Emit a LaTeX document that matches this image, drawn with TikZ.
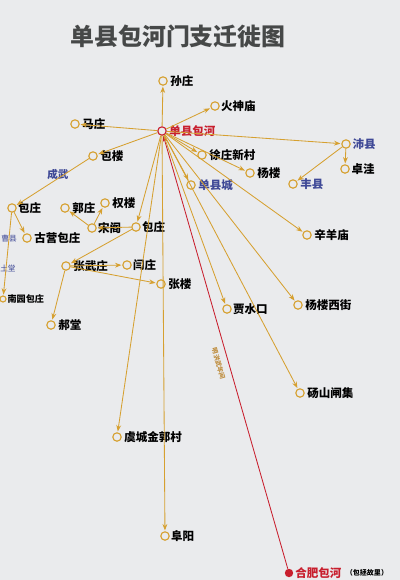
\documentclass[tikz,border=0pt]{standalone}
\usepackage{xcolor}
\usepackage{tikz}
\usepackage{fontspec}
\usetikzlibrary{arrows.meta,positioning}
\newfontfamily\cjk{Noto Sans CJK SC}
\definecolor{mapgold}{RGB}{214, 160, 48}
\definecolor{mapred}{RGB}{200, 30, 45}
\definecolor{mapblue}{RGB}{62, 72, 150}
\definecolor{mapbg}{RGB}{234, 235, 237}
\definecolor{titlegray}{RGB}{70, 72, 72}
\definecolor{notebrown}{RGB}{190, 140, 60}

\begin{document}
\begin{tikzpicture}[x=0.025cm, y=-0.025cm,
    place/.style={circle, draw=mapgold, line width=0.8pt, minimum size=2.1mm, inner sep=0pt},
    town/.style={font=\cjk\bfseries\fontsize{8.2}{9}\selectfont, text=black, inner sep=0.5pt, right=0.3mm},
    county/.style={town, text=mapblue},
    route/.style={draw=mapgold, line width=0.6pt, -{Stealth[length=1.6mm, width=1.2mm]}, shorten >=0.2mm}]
    % Page
    \fill[mapbg] (0,0) rectangle (400,580);
    \useasboundingbox (0,0) rectangle (400,580);

    % Title
    \node[text=titlegray] (title) at (178,36) {\cjk\bfseries\fontsize{17}{20}\selectfont 单县包河门支迁徙图};

    % Origin
    \node[place, draw=mapred] (baohe) at (162,131) {};
    \node[town, text=mapred, right=0.4mm of baohe] (baohe-t) {单县包河};

    % Places round the origin
    \node[place] (sunzhuang) at (163,81) {};
    \node[town, right=0.4mm of sunzhuang] (sunzhuang-t) {孙庄};
    \node[place] (huoshen) at (215,106) {};
    \node[town, right=0.1mm of huoshen] (huoshen-t) {火神庙};
    \node[place] (mazhuang) at (75,124) {};
    \node[town, right=0.4mm of mazhuang] (mazhuang-t) {马庄};
    \node[place] (baolou) at (93,156) {};
    \node[town, right=0.4mm of baolou] (baolou-t) {包楼};
    \node[place] (xuzhuang) at (202,155) {};
    \node[town, right=0.4mm of xuzhuang] (xuzhuang-t) {徐庄新村};
    \node[place] (yanglou) at (250,173) {};
    \node[town, right=0.4mm of yanglou] (yanglou-t) {杨楼};
    \node[place] (danxian) at (191,185) {};
    \node[county, right=0.4mm of danxian] (danxian-t) {单县城};

    % Pei county and Feng county
    \node[place] (peixian) at (346,144) {};
    \node[county, right=0.2mm of peixian] (peixian-t) {沛县};
    \node[place] (zhuowa) at (345,169) {};
    \node[town, right=0.2mm of zhuowa] (zhuowa-t) {卓洼};
    \node[place] (fengxian) at (293,184) {};
    \node[county, right=0.4mm of fengxian] (fengxian-t) {丰县};

    % Chengwu and Cao county, left edge
    \node[place] (baozhuangw) at (12,208) {};
    \node[town, right=0.1mm of baozhuangw] (baozhuangw-t) {包庄};
    \node[place] (guying) at (27,238) {};
    \node[town, right=0.4mm of guying] (guying-t) {古营包庄};
    \node[place, minimum size=1.5mm] (nanyuan) at (3,299) {};
    \node[town, font=\cjk\bfseries\fontsize{6.5}{7}\selectfont, right=0mm of nanyuan] (nanyuan-t) {南园包庄};
    \node[text=mapblue, font=\cjk\fontsize{5.5}{6}\selectfont, inner sep=0pt] (caoxian) at (9,239) {曹县};
    \node[text=mapblue, font=\cjk\fontsize{5.5}{6}\selectfont, inner sep=0pt] (tutang) at (8,268) {土堂};
    \node[text=mapblue, font=\cjk\bfseries\fontsize{7.5}{8}\selectfont] (chengwu) at (58,174) {成武};

    % Middle villages
    \node[place] (guozhuang) at (65,208) {};
    \node[town, right=0.4mm of guozhuang] (guozhuang-t) {郭庄};
    \node[place] (quanlou) at (105,203) {};
    \node[town, right=0.4mm of quanlou] (quanlou-t) {权楼};
    \node[place] (songge) at (92,228) {};
    \node[town, right=0.1mm of songge] (songge-t) {宋阁};
    \node[place] (baozhuang) at (136,227) {};
    \node[town, right=0.1mm of baozhuang] (baozhuang-t) {包庄};
    \node[place] (zhangwu) at (66,266) {};
    \node[town, right=0.4mm of zhangwu] (zhangwu-t) {张武庄};
    \node[place] (yanzhuang) at (127,265) {};
    \node[town, right=0.1mm of yanzhuang] (yanzhuang-t) {闫庄};
    \node[place] (zhanglou) at (161,284) {};
    \node[town, right=0.4mm of zhanglou] (zhanglou-t) {张楼};
    \node[place] (haotang) at (51,325) {};
    \node[town, right=0.4mm of haotang] (haotang-t) {郝堂};

    % Places to the south-east
    \node[place] (xinyang) at (307,235) {};
    \node[town, right=0.4mm of xinyang] (xinyang-t) {辛羊庙};
    \node[place] (jiashui) at (227,309) {};
    \node[town, right=0.1mm of jiashui] (jiashui-t) {贾水口};
    \node[place] (xijie) at (298,305) {};
    \node[town, right=0.4mm of xijie] (xijie-t) {杨楼西街};
    \node[place] (zhaji) at (300,393) {};
    \node[town, right=0.4mm of zhaji] (zhaji-t) {砀山闸集};

    % Far south
    \node[place] (jinguo) at (117,437) {};
    \node[town, right=0.4mm of jinguo] (jinguo-t) {虞城金郭村};
    \node[place] (fuyang) at (165,536) {};
    \node[town, right=0.1mm of fuyang] (fuyang-t) {阜阳};
    \node[circle, fill=mapred, minimum size=2.1mm, inner sep=0pt] (hefei) at (289,573) {};
    \node[town, text=mapred, right=0.2mm of hefei] (hefei-t) {合肥包河};
    \node[font=\cjk\bfseries\fontsize{5}{6}\selectfont, inner sep=0pt, right=0.8mm of hefei-t] (hefei-note) {（包拯故里）};

    % Red line from Hefei
    \draw[mapred, line width=0.6pt, -{Stealth[length=1.6mm, width=1.2mm]}] (hefei) -- (baohe)
        node[pos=0.48, sloped, below=0.4mm, text=notebrown, font=\cjk\bfseries\fontsize{4.5}{5}\selectfont] (hongwu) {明洪武年间};

    % Routes from the origin
    \draw[route] (baohe) -- (sunzhuang);
    \draw[route] (baohe) -- (huoshen);
    \draw[route] (baohe) -- (mazhuang);
    \draw[route] (baohe) -- (baolou);
    \draw[route] (baohe) -- (xuzhuang);
    \draw[route] (baohe) -- (yanglou);
    \draw[route] (baohe) -- (peixian);
    \draw[route] (baohe) -- (danxian);
    \draw[route] (baohe) -- (xinyang);
    \draw[route] (baohe) -- (xijie);
    \draw[route] (baohe) -- (zhaji);
    \draw[route] (baohe) -- (jiashui);
    \draw[route] (baohe) -- (fuyang);
    \draw[route] (baohe) -- (jinguo);
    \draw[route] (baohe) -- (baozhuang);

    % Onward routes
    \draw[route] (peixian) -- (zhuowa);
    \draw[route] (peixian) -- (fengxian);
    \draw[route] (baolou) -- (baozhuangw);
    \draw[route] (baozhuangw) -- (guying);
    \draw[route] (baozhuangw) -- (nanyuan);
    \draw[route] (baozhuang) -- (songge);
    \draw[route] (songge) -- (guozhuang);
    \draw[route] (songge) -- (quanlou);
    \draw[route] (baozhuang) -- (zhangwu);
    \draw[route] (zhangwu) -- (yanzhuang);
    \draw[route] (zhangwu) -- (zhanglou);
    \draw[route] (zhangwu) -- (haotang);
\end{tikzpicture}
\end{document}
